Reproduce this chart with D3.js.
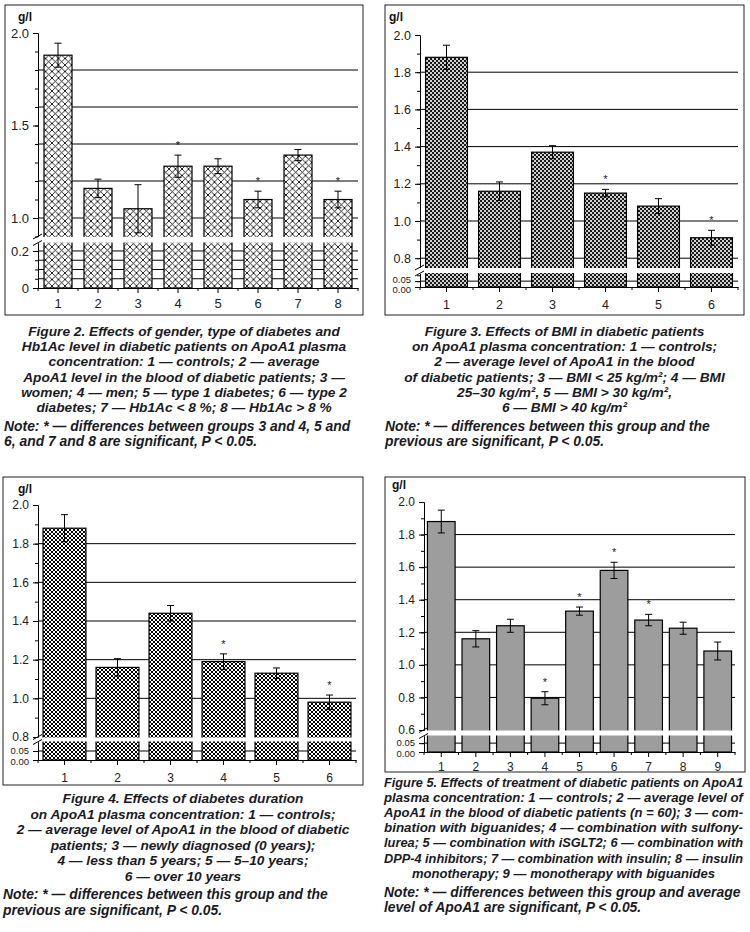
<!DOCTYPE html>
<html>
<head>
<meta charset="utf-8">
<script src="https://cdn.jsdelivr.net/npm/d3@7"></script>
<style>
body { margin: 0; background: #fff; }
svg { display: block; }
</style>
</head>
<body>
<svg id="fig" width="750" height="932"></svg>
<script>
// ---- data ----
// Figure 2: gender, type of diabetes, Hb1Ac
let groups2 = ['1', '2', '3', '4', '5', '6', '7', '8']
let mean2 = [1.88, 1.16, 1.05, 1.28, 1.28, 1.10, 1.34, 1.10]
let err2 = [0.065, 0.05, 0.13, 0.06, 0.04, 0.045, 0.03, 0.045]
let star2 = ['4', '6', '8']

// Figure 3: BMI
let groups3 = ['1', '2', '3', '4', '5', '6']
let mean3 = [1.88, 1.16, 1.37, 1.15, 1.08, 0.91]
let err3 = [0.065, 0.05, 0.035, 0.02, 0.04, 0.04]
let star3 = ['4', '6']

// Figure 4: diabetes duration
let groups4 = ['1', '2', '3', '4', '5', '6']
let mean4 = [1.88, 1.16, 1.44, 1.19, 1.13, 0.98]
let err4 = [0.07, 0.045, 0.04, 0.04, 0.027, 0.037]
let star4 = ['4', '6']

// Figure 5: treatment
let groups5 = ['1', '2', '3', '4', '5', '6', '7', '8', '9']
let mean5 = [1.88, 1.16, 1.24, 0.795, 1.33, 1.58, 1.275, 1.225, 1.085]
let err5 = [0.07, 0.05, 0.04, 0.04, 0.025, 0.05, 0.035, 0.037, 0.055]
let star5 = ['4', '5', '6', '7']

// tick values
let upTicks2 = [1.0, 1.5, 2.0], upGrid2 = [1.0, 1.2, 1.4, 1.6, 1.8]
let loTicks2 = [0, 0.2], loGrid2 = [0.05, 0.1, 0.15, 0.2]
let upTicks3 = [0.8, 1.0, 1.2, 1.4, 1.6, 1.8, 2.0], upGrid3 = [0.8, 1.0, 1.2, 1.4, 1.6, 1.8]
let upTicks4 = [0.8, 1.0, 1.2, 1.4, 1.6, 1.8, 2.0], upGrid4 = [1.0, 1.2, 1.4, 1.6, 1.8]
let upTicks5 = [0.6, 0.8, 1.0, 1.2, 1.4, 1.6, 1.8, 2.0], upGrid5 = [0.8, 1.0, 1.2, 1.4, 1.6, 1.8]
let loTicksSmall = [0, 0.05], loGridSmall = [0.05]

// captions
let cap2 = ['Figure 2. Effects of gender, type of diabetes and',
    'Hb1Ac level in diabetic patients on ApoA1 plasma',
    'concentration: 1 — controls; 2 — average',
    'ApoA1 level in the blood of diabetic patients; 3 —',
    'women; 4 — men; 5 — type 1 diabetes; 6 — type 2',
    'diabetes; 7 — Hb1Ac < 8 %; 8 — Hb1Ac > 8 %']
let note2 = ['Note: * — differences between groups 3 and 4, 5 and',
    '6, and 7 and 8 are significant, P < 0.05.']
let cap3 = ['Figure 3. Effects of BMI in diabetic patients',
    'on ApoA1 plasma concentration: 1 — controls;',
    '2 — average level of ApoA1 in the blood',
    'of diabetic patients; 3 — BMI < 25 kg/m²; 4 — BMI',
    '25–30 kg/m², 5 — BMI > 30 kg/m²,',
    '6 — BMI > 40 kg/m²']
let note3 = ['Note: * — differences between this group and the',
    'previous are significant, P < 0.05.']
let cap4 = ['Figure 4. Effects of diabetes duration',
    'on ApoA1 plasma concentration: 1 — controls;',
    '2 — average level of ApoA1 in the blood of diabetic',
    'patients; 3 — newly diagnosed (0 years);',
    '4 — less than 5 years; 5 — 5–10 years;',
    '6 — over 10 years']
let note4 = ['Note: * — differences between this group and the',
    'previous are significant, P < 0.05.']
let cap5 = ['Figure 5. Effects of treatment of diabetic patients on ApoA1',
    'plasma concentration: 1 — controls; 2 — average level of',
    'ApoA1 in the blood of diabetic patients (n = 60); 3 — com-',
    'bination with biguanides; 4 — combination with sulfony-',
    'lurea; 5 — combination with iSGLT2; 6 — combination with',
    'DPP-4 inhibitors; 7 — combination with insulin; 8 — insulin',
    'monotherapy; 9 — monotherapy with biguanides']
let note5 = ['Note: * — differences between this group and average',
    'level of ApoA1 are significant, P < 0.05.']

let font = 'Liberation Sans, Arial, sans-serif'
let ink = '#1a1a24'
let svg = d3.select('#fig')
let defs = svg.append('defs')

// hatch patterns
function crossPattern(id, s, sw, bg) {
    let p = defs.append('pattern').attr('id', id)
        .attr('patternUnits', 'userSpaceOnUse')
        .attr('width', s).attr('height', s)
    p.append('rect').attr('width', s).attr('height', s).attr('fill', bg)
    p.append('path')
        .attr('d', `M0,0L${s},${s}M-1,${s - 1}L1,${s + 1}M${s - 1},-1L${s + 1},1` +
            `M0,${s}L${s},0M-1,1L1,-1M${s - 1},${s + 1}L${s + 1},${s - 1}`)
        .attr('stroke', '#000').attr('stroke-width', sw)
}
function checkPattern(id, s, fg, bg) {
    let p = defs.append('pattern').attr('id', id)
        .attr('patternUnits', 'userSpaceOnUse')
        .attr('width', 2 * s).attr('height', 2 * s)
    p.append('rect').attr('width', 2 * s).attr('height', 2 * s).attr('fill', bg)
    p.append('rect').attr('width', s).attr('height', s).attr('fill', fg)
    p.append('rect').attr('x', s).attr('y', s).attr('width', s).attr('height', s).attr('fill', fg)
}
crossPattern('h2', 6.5, 0.85, '#fff')
checkPattern('h3', 2, '#1a1a1a', '#d0d0d0')
crossPattern('h4', 4, 1, '#fff')

function drawPanel(p) {
    let g = svg.append('g').attr('color', '#000')
    g.append('rect')
        .attr('x', p.frame[0]).attr('y', p.frame[1])
        .attr('width', p.frame[2]).attr('height', p.frame[3])
        .attr('fill', 'none').attr('stroke', '#222').attr('stroke-width', 1)

    let x = d3.scaleBand().domain(p.groups).range(p.xr)
        .paddingInner(1 - p.ratio).paddingOuter((1 - p.ratio) / 2)
    let yUp = d3.scaleLinear().domain(p.upDom).range(p.upRng)
    let yLo = d3.scaleLinear().domain(p.loDom).range(p.loRng)
    let base = p.loRng[0]

    // grid lines behind the bars
    g.append('g').selectAll('line')
        .data(p.upGrid.map(v => yUp(v)).concat(p.loGrid.map(v => yLo(v))))
        .join('line')
        .attr('x1', p.xr[0]).attr('x2', p.xr[1])
        .attr('y1', d => d).attr('y2', d => d)
        .attr('stroke', '#000').attr('stroke-width', 1)

    let data = p.groups.map((k, i) => ({ k: k, m: p.mean[i], e: p.err[i] }))
    g.append('g').selectAll('rect')
        .data(data)
        .join('rect')
        .attr('x', d => x(d.k))
        .attr('y', d => yUp(d.m))
        .attr('width', x.bandwidth())
        .attr('height', d => base - yUp(d.m))
        .attr('fill', p.fill)
        .attr('stroke', '#000').attr('stroke-width', 1.2)

    // white gap for the axis break
    g.append('rect')
        .attr('x', p.xr[0] - 3).attr('y', p.upRng[0] + 0.5)
        .attr('width', p.xr[1] - p.xr[0] + 6)
        .attr('height', p.loRng[1] - p.upRng[0] - 1)
        .attr('fill', '#fff')

    // error bars
    let cap = 3.5
    let eb = g.append('g').attr('stroke', '#000').attr('stroke-width', 1)
    data.forEach(d => {
        let cx = x(d.k) + x.bandwidth() / 2
        eb.append('line').attr('x1', cx).attr('x2', cx)
            .attr('y1', yUp(d.m + d.e)).attr('y2', yUp(d.m - d.e))
        eb.append('line').attr('x1', cx - cap).attr('x2', cx + cap)
            .attr('y1', yUp(d.m + d.e)).attr('y2', yUp(d.m + d.e))
        eb.append('line').attr('x1', cx - cap).attr('x2', cx + cap)
            .attr('y1', yUp(d.m - d.e)).attr('y2', yUp(d.m - d.e))
    })
    g.append('g').selectAll('text')
        .data(data.filter(d => p.stars.includes(d.k)))
        .join('text')
        .attr('x', d => x(d.k) + x.bandwidth() / 2)
        .attr('y', d => yUp(d.m + d.e) - 6)
        .attr('text-anchor', 'middle')
        .attr('font-family', font).attr('font-size', 11)
        .style('fill', ink)
        .text('*')

    // y axes
    let ax = p.xr[0]
    let minorUp = d3.range(Math.ceil(p.upDom[0] * 10 - 1e-6), Math.floor(p.upDom[1] * 10 + 1e-6) + 1).map(v => v / 10)
    let yAxUpMinor = g.append('g').attr('transform', `translate(${ax},0)`)
        .call(d3.axisLeft(yUp).tickValues(minorUp).tickSize(3).tickSizeOuter(0).tickFormat(''))
    let yAxUp = g.append('g').attr('transform', `translate(${ax},0)`)
        .call(d3.axisLeft(yUp).tickValues(p.upTicks).tickSize(5).tickSizeOuter(0).tickFormat(d3.format('.1f')))
    let yAxLoMinor = g.append('g').attr('transform', `translate(${ax},0)`)
        .call(d3.axisLeft(yLo).tickValues(p.loMinor).tickSize(3).tickSizeOuter(0).tickFormat(''))
    let yAxLo = g.append('g').attr('transform', `translate(${ax},0)`)
        .call(d3.axisLeft(yLo).tickValues(p.loTicks).tickSize(5).tickSizeOuter(0).tickFormat(p.loFmt))
    ;[yAxUp, yAxLo].forEach(a => a.selectAll('text')
        .attr('font-family', font).attr('font-size', p.fs).style('fill', '#222').attr('dx', -1))
    // the two small labels sit very close together: nudge them apart
    yAxLo.selectAll('text').attr('font-size', p.fsLo)
        .attr('dy', d => d === 0 ? (0.32 + p.loNudge / p.fsLo) + 'em' : (0.32 - p.loNudge / p.fsLo) + 'em')
    ;[yAxUpMinor, yAxUp, yAxLoMinor, yAxLo].forEach(a => {
        a.selectAll('line').attr('stroke', '#000')
        a.select('.domain').attr('stroke', '#000')
    })

    // break marks
    let bk = g.append('g').attr('stroke', '#000').attr('stroke-width', 1)
    ;[p.upRng[0], p.loRng[1]].forEach(yy => {
        bk.append('line').attr('x1', ax - 5).attr('y1', yy + 2.5).attr('x2', ax + 4).attr('y2', yy - 2.5)
    })

    // x axis
    let xAx = g.append('g').attr('transform', `translate(0,${base})`)
        .call(d3.axisBottom(x).tickSize(5).tickSizeOuter(0).tickPadding(p.xPad))
    xAx.selectAll('text').attr('font-family', font).attr('font-size', p.fs).style('fill', '#222')
    xAx.selectAll('line').attr('stroke', '#000')
    xAx.select('.domain').attr('stroke', '#000')
    let bounds = p.groups.map(k => x(k) - x.step() * (1 - p.ratio) / 2).concat([p.xr[1]])
    g.append('g').selectAll('line')
        .data(bounds)
        .join('line')
        .attr('x1', d => d).attr('x2', d => d)
        .attr('y1', base).attr('y2', base + 3)
        .attr('stroke', '#000')

    // unit label
    g.append('text')
        .attr('x', p.unit[0]).attr('y', p.unit[1])
        .attr('font-family', font).attr('font-size', 12).attr('font-weight', 'bold')
        .style('fill', '#111')
        .text('g/l')
}

function drawCaption(c) {
    let g = svg.append('g')
        .attr('font-family', font).attr('font-style', 'italic').attr('font-weight', 'bold')
        .style('fill', ink)
    c.lines.forEach((t, i) => {
        let tx = g.append('text')
            .attr('y', c.y + i * c.lh)
            .attr('font-size', c.fs)
            .text(t)
        if (c.justify) {
            let last = i === c.lines.length - 1
            let w = last ? c.lastW : c.x1 - c.x0
            tx.attr('x', last ? (c.x0 + c.x1 - w) / 2 : c.x0)
                .attr('textLength', w).attr('lengthAdjust', 'spacingAndGlyphs')
        } else {
            tx.attr('x', (c.x0 + c.x1) / 2).attr('text-anchor', 'middle')
        }
    })
    c.note.forEach((t, i) => {
        g.append('text')
            .attr('x', c.x0).attr('y', c.ny + i * c.lh)
            .attr('font-size', c.nfs)
            .text(t)
    })
}

let fmtLo2 = d => d === 0 ? '0' : d3.format('.1f')(d)
let fmtLo = d3.format('.2f')

drawPanel({ frame: [5, 5, 358, 310], groups: groups2, mean: mean2, err: err2, stars: star2,
    xr: [38, 358], ratio: 0.7, upDom: [0.9, 2.0], upRng: [236.5, 33], loDom: [0, 0.243], loRng: [288, 243],
    upTicks: upTicks2, upGrid: upGrid2, loTicks: loTicks2, loGrid: loGrid2, loMinor: [0.05, 0.1, 0.15, 0.2],
    loFmt: fmtLo2, fill: 'url(#h2)', fs: 13, fsLo: 13, loNudge: 0, xPad: 6, unit: [18, 21] })
drawPanel({ frame: [385, 5, 359, 310], groups: groups3, mean: mean3, err: err3, stars: star3,
    xr: [420, 738], ratio: 0.79, upDom: [0.75, 2.0], upRng: [267.5, 35], loDom: [0, 0.115], loRng: [287, 273.5],
    upTicks: upTicks3, upGrid: upGrid3, loTicks: loTicksSmall, loGrid: loGridSmall, loMinor: [0, 0.05, 0.1],
    loFmt: fmtLo, fill: 'url(#h3)', fs: 12.5, fsLo: 9.5, loNudge: 2, xPad: 8, unit: [389, 21] })
drawPanel({ frame: [3, 477, 360, 308], groups: groups4, mean: mean4, err: err4, stars: star4,
    xr: [38, 356], ratio: 0.81, upDom: [0.8, 2.0], upRng: [737, 505], loDom: [0, 0.1], loRng: [760, 742],
    upTicks: upTicks4, upGrid: upGrid4, loTicks: loTicksSmall, loGrid: loGridSmall, loMinor: [0, 0.05],
    loFmt: fmtLo, fill: 'url(#h4)', fs: 12, fsLo: 9.5, loNudge: 1, xPad: 8, unit: [18, 493] })
drawPanel({ frame: [385, 477, 360, 295], groups: groups5, mean: mean5, err: err5, stars: star5,
    xr: [424, 735], ratio: 0.8, upDom: [0.6, 2.0], upRng: [730, 502], loDom: [0, 0.09], loRng: [752, 736],
    upTicks: upTicks5, upGrid: upGrid5, loTicks: loTicksSmall, loGrid: loGridSmall, loMinor: [0, 0.05],
    loFmt: fmtLo, fill: '#9d9d9d', fs: 12, fsLo: 9.5, loNudge: 1, xPad: 5, unit: [392, 489] })

drawCaption({ lines: cap2, note: note2, x0: 4, x1: 364, y: 336, lh: 15.2, fs: 13.7, ny: 431, nfs: 13.9 })
drawCaption({ lines: cap3, note: note3, x0: 385, x1: 744, y: 336, lh: 15.2, fs: 13.7, ny: 431, nfs: 13.9 })
drawCaption({ lines: cap4, note: note4, x0: 3, x1: 363, y: 803, lh: 15.5, fs: 13.7, ny: 899, nfs: 13.9 })
drawCaption({ lines: cap5, note: note5, x0: 384, x1: 743, y: 787, lh: 15.1, fs: 12.3, justify: true, lastW: 303, ny: 897, nfs: 13.9 })
</script>
</body>
</html>
